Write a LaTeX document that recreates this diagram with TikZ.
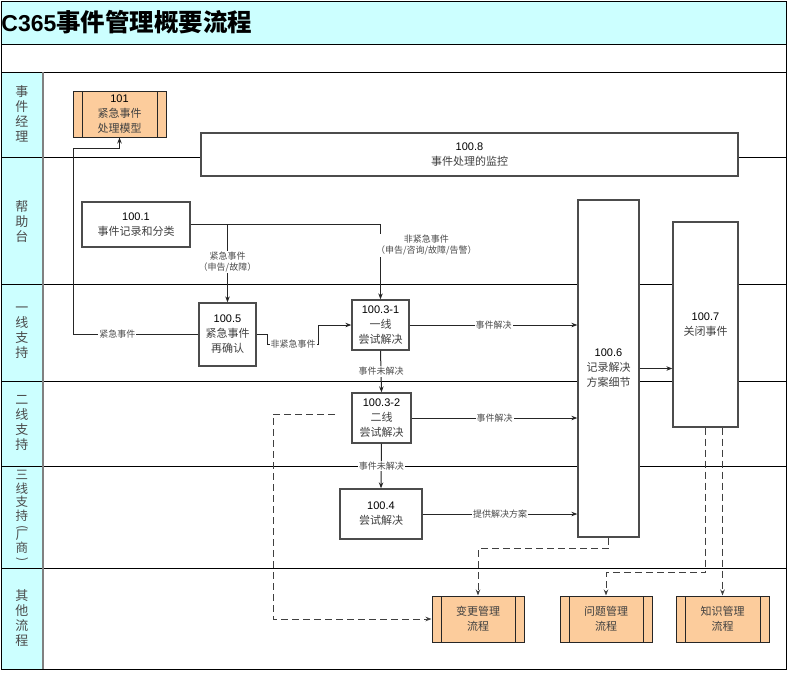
\documentclass[tikz,border=0pt]{standalone}
\usepackage{fontspec}
\setmainfont{Liberation Sans}
\newfontfamily\cjk{Noto Sans CJK SC}
\usetikzlibrary{arrows.meta}
\definecolor{lanecyan}{RGB}{204,255,255}
\definecolor{suborange}{RGB}{252,204,156}
\newcommand{\zh}[1]{{\cjk\color{black!75}#1}}
\newcommand{\vparen}[1]{\rotatebox[origin=c]{-90}{\fontsize{12}{12}\selectfont#1}}

\begin{document}
\begin{tikzpicture}[x=1pt,y=-1pt,>={Stealth[length=6pt,width=4.5pt]},
  every node/.style={font=\fontsize{11}{15}\selectfont,align=center,inner sep=0pt},
  line width=0.8pt,
  box/.style={draw=black!70,line width=1.3pt,fill=white},
  subbox/.style={draw=black!85,line width=1pt,fill=suborange,minimum width=92pt,minimum height=46pt,
    path picture={\draw[black!85,line width=1pt]
      ([xshift=9pt]path picture bounding box.north west) -- ([xshift=9pt]path picture bounding box.south west)
      ([xshift=-9pt]path picture bounding box.north east) -- ([xshift=-9pt]path picture bounding box.south east);}},
  lanetxt/.style={font=\cjk\fontsize{13}{15}\selectfont,text=black!70},
  lbl/.style={font=\cjk\fontsize{9}{11}\selectfont,text=black!70,fill=white,inner sep=1pt},
  conn/.style={black!85,line width=1pt},
  dashln/.style={black!75,line width=1pt,dash pattern=on 7pt off 4pt}]
  \useasboundingbox (0,0) rectangle (789,673);
  \fill[lanecyan] (1,1) rectangle (786,44);
  \fill[lanecyan] (1,72) rectangle (43,669);
  \draw (1,44) -- (786,44) (1,72) -- (786,72);
  \foreach \y in {157,284,381,466,568} \draw (1,\y) -- (786,\y);
  \draw[black!50,line width=1.2pt] (43,72) -- (43,669);
  \draw (1,1) rectangle (786,669);
  \node[anchor=west] (title) at (1,22) {{\fontsize{23}{25}\selectfont\bfseries C365}{\cjk\fontsize{24.5}{26}\selectfont\bfseries 事件管理概要流程}};
  \node[lanetxt] (lmgr) at (22,114) {事\\件\\经\\理};
  \node[lanetxt] (ldesk) at (22,222) {帮\\助\\台};
  \node[lanetxt] (lone) at (22,333) {一\\线\\支\\持};
  \node[lanetxt] (ltwo) at (22,423) {二\\线\\支\\持};
  \node[lanetxt,font=\cjk\fontsize{12.5}{13.5}\selectfont] (lthree) at (22,517) {三\\线\\支\\持\\[-3pt]\vparen{(}\\[-5pt]厂\\商\\[-3pt]\vparen{)}};
  \node[lanetxt] (lother) at (22,618) {其\\他\\流\\程};
  \node[subbox,minimum width=93pt] (n101) at (119.5,114) {101\\\zh{紧急事件}\\\zh{处理模型}};
  \node[box,minimum width=537pt,minimum height=43pt] (n1008) at (469.5,154.5) {100.8\\\zh{事件处理的监控}};
  \node[box,minimum width=108pt,minimum height=45pt] (n1001) at (136,224.5) {100.1\\\zh{事件记录和分类}};
  \node[box,minimum width=57pt,minimum height=63pt] (n1005) at (227.5,334.5) {100.5\\\zh{紧急事件}\\\zh{再确认}};
  \node[box,minimum width=57pt,minimum height=50pt] (n10031) at (380.5,325) {100.3-1\\\zh{一线}\\\zh{尝试解决}};
  \node[box,minimum width=59pt,minimum height=50pt] (n10032) at (381.5,418) {100.3-2\\\zh{二线}\\\zh{尝试解决}};
  \node[box,minimum width=82pt,minimum height=50pt] (n1004) at (381,514) {100.4\\\zh{尝试解决}};
  \node[box,minimum width=61pt,minimum height=337pt] (n1006) at (608.5,368.5) {100.6\\\zh{记录解决}\\\zh{方案细节}};
  \node[box,minimum width=65pt,minimum height=205pt] (n1007) at (705.5,324.5) {100.7\\\zh{关闭事件}};
  \node[subbox] (nchg) at (478,619) {\zh{变更管理}\\\zh{流程}};
  \node[subbox] (nprb) at (606,619) {\zh{问题管理}\\\zh{流程}};
  \node[subbox,minimum width=93pt] (nknw) at (722.5,619) {\zh{知识管理}\\\zh{流程}};
  \draw[conn,->] (n1001.east) -| node[lbl,pos=0.74] {紧急事件\\（申告/故障）} (n1005.north);
  \draw[conn,->] (n1001.east) -| node[lbl,pos=0.64,anchor=west,xshift=-6pt] {非紧急事件\\（申告/咨询/故障/告警）} (n10031.north);
  \draw[conn,->] (n1005.west) -- node[lbl,pos=0.65] {紧急事件} ++(-124.5,0) |- ([yshift=-11pt]n101.south) -- (n101.south);
  \draw[conn,->] (n1005.east) -- ++(11,0) -- ++(0,10) -- node[lbl] {非紧急事件} ++(51,0) |- (n10031.west);
  \draw[conn,->] (n10031.east) -- node[lbl] {事件解决} (n10031.east -| n1006.west);
  \draw[conn,->] (n10031.south) -- node[lbl] {事件未解决} (n10032.north);
  \draw[conn,->] (n10032.east) -- node[lbl] {事件解决} (n10032.east -| n1006.west);
  \draw[conn,->] (n10032.south) -- node[lbl] {事件未解决} (n1004.north);
  \draw[conn,->] (n1004.east) -- node[lbl] {提供解决方案} (n1004.east -| n1006.west);
  \draw[conn,->] (n1006.east) -- (n1006.east -| n1007.west);
  \coordinate (dstart) at (335,414);
  \draw[dashln,->] (n1006.south) -- ++(0,11) -| (nchg.north);
  \draw[dashln,->] (n1007.south) -- ++(0,145) -| (nprb.north);
  \draw[dashln,->] (nknw.north |- n1007.south) -- (nknw.north);
  \draw[dashln,->] (dstart) -- ++(-62,0) |- (nchg.west);
\end{tikzpicture}
\end{document}
